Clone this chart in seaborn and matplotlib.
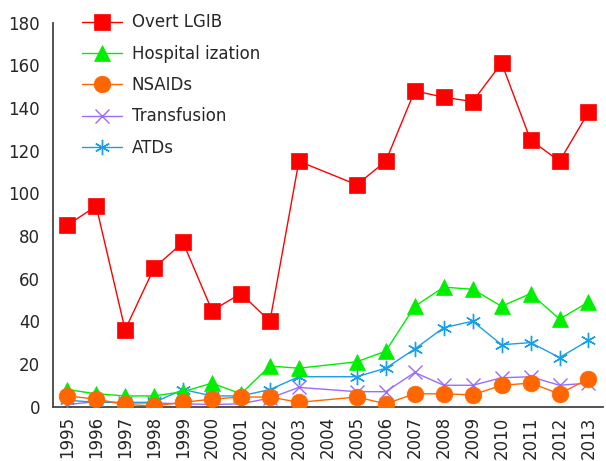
import numpy as np
import pandas as pd
import matplotlib
matplotlib.use("Agg")
import matplotlib.pyplot as plt
from matplotlib.ticker import MultipleLocator, FixedLocator
import seaborn as sns

# years on the axis (2004 has no data, lines jump over it)
years = list(range(1995, 2014))
nan = np.nan
overt_lgib = [85, 94, 36, 65, 77, 45, 53, 40, 115, nan, 104, 115, 148, 145, 143, 161, 125, 115, 138]
hospitalization = [8, 6, 5, 5, 7, 11, 6, 19, 18, nan, 21, 26, 47, 56, 55, 47, 53, 41, 49]
nsaids = [5, 3.5, 1, 0.3, 2, 3.5, 4.5, 4.5, 2, nan, 4.5, 1.3, 6, 6, 5.5, 10, 11, 6, 13]
transfusion = [1, 2.3, 1.7, 1.7, 1.3, 1, 1.3, 4, 9, nan, 7, 7, 16, 10, 10, 13.5, 14, 10, 11]
atds = [3, 2, 2, 2, 8, 5, 5, 8, 14, nan, 14, 18, 27, 37, 40, 29, 30, 23, 31]

series = {
    "Overt LGIB": overt_lgib,
    "Hospital ization": hospitalization,
    "NSAIDs": nsaids,
    "Transfusion": transfusion,
    "ATDs": atds,
}
legend_order = ["Overt LGIB", "Hospital ization", "NSAIDs", "Transfusion", "ATDs"]

# styling per series
styles = {
    "Overt LGIB": dict(color="#FF0000", marker="s", ms=11, mew=0.5, z=6),
    "Hospital ization": dict(color="#00EE00", marker="^", ms=11.5, mew=0.5, z=4),
    "NSAIDs": dict(color="#FF6600", marker="o", ms=12, mew=0.5, z=5),
    "Transfusion": dict(color="#9B6BFF", marker="x", ms=10, mew=1.0, z=2),
    "ATDs": dict(color="#1A9FE6", marker=(6, 2, 0), ms=11, mew=1.0, z=3),
}

sns.set_style("white")
plt.rcParams["font.family"] = ["DejaVu Sans"]

fig = plt.figure(figsize=(6.06, 4.61), dpi=100)
ax = fig.add_axes([0.087, 0.118, 0.908, 0.833])

handles = {}
for name in legend_order:
    df = pd.DataFrame({"year": years, "value": series[name]}).dropna()
    st = styles[name]
    sns.lineplot(data=df, x="year", y="value", ax=ax, color=st["color"],
                 marker=st["marker"], markersize=st["ms"],
                 markeredgecolor=st["color"], markerfacecolor=st["color"],
                 markeredgewidth=st["mew"], linewidth=1.0, zorder=st["z"],
                 label=name, legend=False)
    handles[name] = ax.lines[-1]

ax.set_xlim(1994.5, 2013.5)
ax.set_ylim(0, 180)
ax.set_xlabel("")
ax.set_ylabel("")

ax.xaxis.set_major_locator(FixedLocator(years))
ax.set_xticklabels([str(y) for y in years], rotation=90)
ax.xaxis.set_minor_locator(FixedLocator([y + 0.5 for y in years[:-1]]))
ax.yaxis.set_major_locator(MultipleLocator(20))

ax.tick_params(axis="x", which="major", length=0, labelsize=12, pad=7)
ax.tick_params(axis="x", which="minor", direction="in", length=6, width=1, color="#222222")
ax.tick_params(axis="y", which="major", direction="in", length=6, width=1,
               color="#222222", labelsize=12, pad=9)

for s in ["top", "right"]:
    ax.spines[s].set_visible(False)
for s in ["left", "bottom"]:
    ax.spines[s].set_color("#444444")
    ax.spines[s].set_linewidth(1.3)

leg = fig.legend([handles[n] for n in legend_order], legend_order,
                 loc="upper left", bbox_to_anchor=(0.135, 0.971),
                 frameon=False, fontsize=12, handlelength=2.4,
                 handletextpad=0.6, labelspacing=0.8, borderpad=0,
                 borderaxespad=0)

fig.savefig("out.png", dpi=100)
